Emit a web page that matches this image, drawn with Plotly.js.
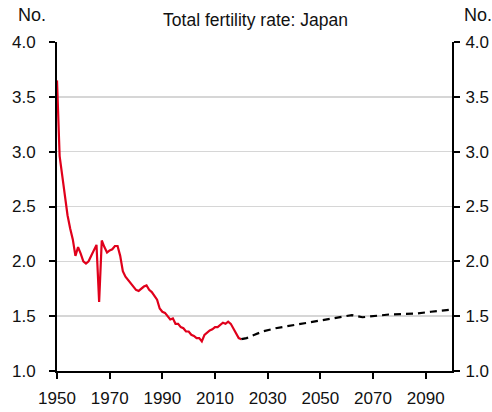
<!DOCTYPE html>
<html>
<head>
<meta charset="utf-8">
<script src="https://cdn.plot.ly/plotly-3.0.1.min.js"></script>
<style>html,body{margin:0;padding:0;background:#fff;}#chart{width:492px;height:412px;}</style>
</head>
<body>
<div id="chart"></div>
<script>
// Actual total fertility rate, Japan
const actualYears = [1950,1951,1952,1953,1954,1955,1956,1957,1958,1959,1960,1961,1962,1963,1964,1965,1966,1967,1968,1969,1970,1971,1972,1973,1974,1975,1976,1977,1978,1979,1980,1981,1982,1983,1984,1985,1986,1987,1988,1989,1990,1991,1992,1993,1994,1995,1996,1997,1998,1999,2000,2001,2002,2003,2004,2005,2006,2007,2008,2009,2010,2011,2012,2013,2014,2015,2016,2017,2018,2019,2020];
const actualTFR = [3.65,2.96,2.78,2.60,2.42,2.30,2.20,2.05,2.13,2.07,2.00,1.98,2.00,2.05,2.10,2.15,1.63,2.19,2.13,2.08,2.10,2.11,2.14,2.14,2.05,1.91,1.86,1.83,1.80,1.78,1.74,1.73,1.75,1.77,1.78,1.74,1.72,1.69,1.65,1.57,1.54,1.53,1.50,1.47,1.48,1.43,1.43,1.40,1.39,1.36,1.36,1.33,1.32,1.30,1.30,1.27,1.33,1.35,1.37,1.38,1.40,1.40,1.42,1.44,1.43,1.45,1.43,1.39,1.35,1.30,1.29];
// Projection
const projYears = [2020,2022,2025,2028,2033,2038,2043,2048,2052,2057,2059,2062,2066,2070,2076,2082,2087,2092,2098,2100];
const projTFR = [1.29,1.30,1.33,1.36,1.39,1.41,1.43,1.45,1.47,1.49,1.50,1.51,1.49,1.50,1.515,1.52,1.525,1.54,1.55,1.56];
const xTicks = [1950,1970,1990,2010,2030,2050,2070,2090];
const yTicks = [1.0,1.5,2.0,2.5,3.0,3.5,4.0];
const titleText = 'Total fertility rate: Japan';
const unitLabel = 'No.';

const FONT = '"Liberation Sans", Arial, sans-serif';

const traces = [
  {x: actualYears, y: actualTFR, type: 'scatter', mode: 'lines',
   line: {color: '#e0001b', width: 2.2}, hoverinfo: 'skip'},
  {x: projYears, y: projTFR, type: 'scatter', mode: 'lines',
   line: {color: '#000000', width: 2.2, dash: '7px,5px'}, hoverinfo: 'skip'},
  {x: [1950], y: [1], yaxis: 'y2', type: 'scatter', mode: 'markers',
   marker: {opacity: 0}, hoverinfo: 'skip'}
];

const yCommon = {
  range: [1, 4], tickvals: yTicks, ticktext: yTicks.map(v => v.toFixed(1)),
  showline: true, linecolor: '#000', linewidth: 2,
  ticks: 'outside', ticklen: 6, tickwidth: 2, tickcolor: '#000',
  zeroline: false, fixedrange: true,
  tickfont: {family: FONT, size: 17, color: '#111'}
};

const layout = {
  width: 492, height: 412,
  margin: {l: 57, r: 40, t: 41.5, b: 40.5, pad: 0},
  paper_bgcolor: '#fff', plot_bgcolor: '#fff',
  showlegend: false,
  title: {text: titleText, font: {family: FONT, size: 17.5, color: '#111'},
          xref: 'paper', x: 0.5025, xanchor: 'center',
          yref: 'container', y: 0.951, yanchor: 'middle'},
  xaxis: {
    range: [1950, 2100], tickvals: xTicks, ticktext: xTicks.map(String),
    showline: true, linecolor: '#000', linewidth: 2,
    ticks: 'outside', ticklen: 6, tickwidth: 2, tickcolor: '#000',
    showgrid: false, zeroline: false, fixedrange: true,
    ticklabelstandoff: 5,
    tickfont: {family: FONT, size: 17, color: '#111'}
  },
  yaxis: Object.assign({}, yCommon, {showgrid: true, gridcolor: '#d6d6d6', gridwidth: 1.5, side: 'left', ticklabelstandoff: 10}),
  yaxis2: Object.assign({}, yCommon, {showgrid: false, overlaying: 'y', side: 'right', ticklabelstandoff: 2}),
  annotations: [
    {text: unitLabel, xref: 'paper', yref: 'paper', x: -0.101, xanchor: 'left',
     y: 1.082, yanchor: 'middle', showarrow: false, borderpad: 0,
     font: {family: FONT, size: 18, color: '#111'}},
    {text: unitLabel, xref: 'paper', yref: 'paper', x: 1.028, xanchor: 'left',
     y: 1.082, yanchor: 'middle', showarrow: false, borderpad: 0,
     font: {family: FONT, size: 18, color: '#111'}}
  ]
};

Plotly.newPlot('chart', traces, layout, {staticPlot: true, displayModeBar: false});
</script>
</body>
</html>
